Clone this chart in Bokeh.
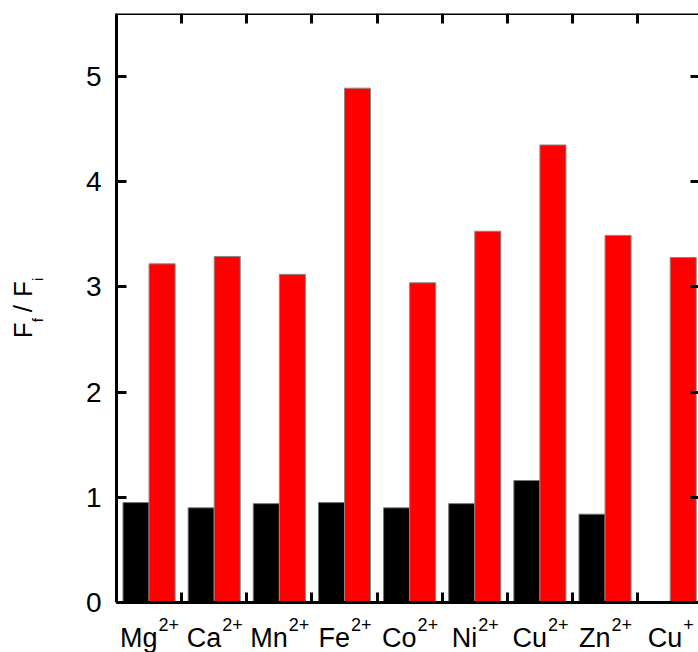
import numpy as np
from math import pi
from bokeh.plotting import figure
from bokeh.models import Range1d, FixedTicker, LinearAxis, Label, ColumnDataSource
from bokeh.embed import file_html
from bokeh.resources import INLINE

# ---- data ----
ions = ["Mg", "Ca", "Mn", "Fe", "Co", "Ni", "Cu", "Zn", "Cu"]
charges = ["2+", "2+", "2+", "2+", "2+", "2+", "2+", "2+", "+"]
before = [0.95, 0.90, 0.94, 0.95, 0.90, 0.94, 1.16, 0.84, 0.0]
after = [3.22, 3.29, 3.12, 4.89, 3.04, 3.53, 4.35, 3.49, 3.28]
y_ticks = [0, 1, 2, 3, 4, 5]

FONT = "Liberation Sans"
# Arial / Liberation Sans advance widths (em)
W = {"M": .833, "g": .556, "C": .722, "a": .556, "n": .556, "F": .611, "e": .556,
     "o": .556, "N": .722, "i": .222, "u": .556, "Z": .611, "2": .556, "+": .584,
     "f": .278, "/": .278, " ": .278}


def tw(s, size):
    return sum(W.get(c, 0.556) for c in s) * size


n = len(ions)
xc = np.arange(1, n + 1)
src = ColumnDataSource(dict(xb=xc - 0.2, xr=xc + 0.2, before=before, after=after))

XPX, YPX = 65.14, 105.2          # pixels per unit
X0, X1 = 0.5, 0.5 + 582 / XPX     # plotted category span (right edge just outside window)
Y0, Y1 = 0.0, 5.6
xr = Range1d(X0 - 116 / XPX, X1)
yr = Range1d(Y0 - 50 / YPX, Y1)

p = figure(width=698, height=652, output_backend="svg", toolbar_location=None,
           x_range=xr, y_range=yr,
           min_border_left=0, min_border_right=0, min_border_top=13,
           min_border_bottom=0)
p.outline_line_color = None
p.xgrid.visible = False
p.ygrid.visible = False
p.background_fill_color = "white"
p.border_fill_color = "white"

p.vbar(x="xb", top="before", width=0.4, source=src, fill_color="black",
       line_color="#777777", line_width=1)
p.vbar(x="xr", top="after", width=0.4, source=src, fill_color="#ff0000",
       line_color="#888888", line_width=1)

bounds = [i + 0.5 for i in range(1, n)]
blank_x = {t: "" for t in bounds}
blank_y = {t: "" for t in y_ticks}

# bottom axis at y = 0
xa = p.below[0]
xa.fixed_location = Y0
xa.bounds = (X0, X1 + 1)
xa.ticker = FixedTicker(ticks=bounds)
xa.major_label_overrides = blank_x
xa.major_tick_in = 10
xa.major_tick_out = 0
xa.minor_tick_line_color = None
xa.axis_line_width = 3
xa.major_tick_line_width = 3
xa.major_label_standoff = 0

# left axis at x = 0.5
ya = p.left[0]
ya.fixed_location = X0
ya.bounds = (Y0, Y1 + 1)
ya.ticker = FixedTicker(ticks=y_ticks)
ya.major_tick_in = 10
ya.major_tick_out = 0
ya.minor_tick_line_color = None
ya.axis_line_width = 3
ya.major_tick_line_width = 3
ya.major_label_text_font = FONT
ya.major_label_text_font_size = "28px"
ya.major_label_text_color = "black"
ya.major_label_standoff = 15

# top axis along the frame top
ta = LinearAxis(ticker=FixedTicker(ticks=bounds), major_tick_in=10, major_tick_out=0,
                minor_tick_line_color=None, axis_line_width=3, major_tick_line_width=3,
                major_label_overrides=blank_x, major_label_standoff=0,
                bounds=(X0 - 0.02, X1 + 1), fixed_location=Y1)
p.add_layout(ta, "above")

# right axis (its line lies just outside the window)
ra = LinearAxis(ticker=FixedTicker(ticks=y_ticks), major_tick_in=8, major_tick_out=0,
                minor_tick_line_color=None, axis_line_color=None, major_tick_line_width=3,
                major_label_overrides=blank_y, major_label_standoff=0,
                fixed_location=X1)
p.add_layout(ra, "right")

# category labels with superscript charges
MS, SS = 27, 18
for i, (ion, ch) in enumerate(zip(ions, charges)):
    wm, ws = tw(ion, MS), tw(ch, SS)
    start = -(wm + ws) / 2
    p.add_layout(Label(x=xc[i], y=Y0, x_offset=start, y_offset=-35, text=ion,
                       text_font=FONT, text_font_size=f"{MS}px", text_align="left",
                       text_baseline="alphabetic", text_color="black"))
    p.add_layout(Label(x=xc[i], y=Y0, x_offset=start + wm + 1, y_offset=-22, text=ch,
                       text_font=FONT, text_font_size=f"{SS}px", text_align="left",
                       text_baseline="alphabetic", text_color="black"))

# y-axis title: F_f / F_i (rotated); (text, size, shift toward baseline, gap after)
pieces = [("F", 26, 0, 0), ("f", 15, 15, 6), ("/", 26, 0, 8), ("F", 26, 0, 0), ("i", 15, 15, 0)]
total = sum(tw(t, s) + g for t, s, _, g in pieces)
pos = -total / 2
ymid = (Y0 + Y1) / 2
for t, s, sh, g in pieces:
    p.add_layout(Label(x=X0, y=ymid, x_offset=-94 + sh, y_offset=pos, text=t, angle=pi / 2,
                       text_font=FONT, text_font_size=f"{s}px", text_align="left",
                       text_baseline="alphabetic", text_color="black"))
    pos += tw(t, s) + g

open("out.html", "w").write(file_html(p, INLINE))
